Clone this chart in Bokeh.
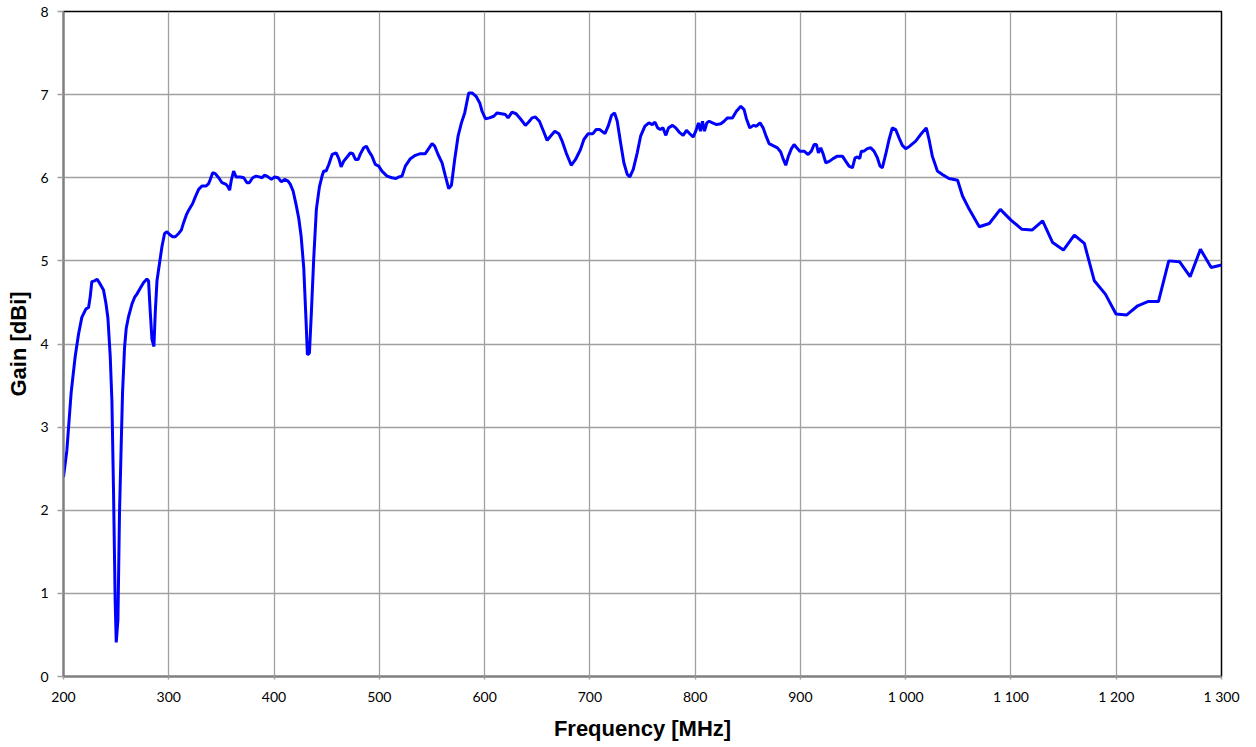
from bokeh.plotting import figure
from bokeh.models import FixedTicker, ColumnDataSource
from bokeh.embed import file_html
from bokeh.resources import INLINE

freq_mhz = [
    200.0, 203.2, 207.3, 211.1, 214.3, 217.4, 221.2, 223.8, 225.4, 226.9, 229.5, 232.0, 234.9,
    238.0, 240.3, 242.2, 244.4, 246.0, 247.5, 249.1, 250.1, 251.7, 253.2, 254.8, 256.1, 258.0,
    259.6, 261.8, 265.0, 267.5, 269.7, 272.9, 276.1, 279.2, 280.8, 282.4, 284.0, 285.9, 287.2,
    288.8, 291.3, 293.5, 296.0, 298.3, 300.5, 303.6, 306.2, 309.4, 311.9, 314.1, 316.6, 318.9,
    322.7, 325.2, 328.4, 331.5, 335.3, 337.9, 339.4, 341.7, 344.2, 347.4, 350.6, 354.4, 356.3,
    357.8, 359.4, 361.6, 363.9, 368.0, 371.2, 374.3, 376.5, 379.7, 382.9, 386.0, 388.6, 390.8,
    393.3, 397.5, 400.6, 403.8, 407.0, 410.1, 413.3, 415.5, 418.1, 420.9, 423.5, 425.7, 428.2,
    430.4, 431.7, 433.6, 435.5, 437.7, 440.2, 443.1, 445.6, 447.2, 449.4, 452.0, 455.2, 459.0,
    461.5, 463.7, 466.2, 469.4, 472.6, 474.8, 477.3, 479.9, 482.1, 485.2, 487.8, 490.0, 493.0,
    496.2, 499.4, 502.5, 507.3, 512.0, 515.8, 518.4, 521.6, 524.7, 529.5, 534.2, 539.0, 543.7,
    546.9, 550.1, 552.6, 555.8, 559.6, 562.8, 565.9, 568.5, 571.6, 574.8, 578.0, 581.1, 584.9,
    588.1, 591.9, 595.4, 597.6, 600.8, 604.6, 608.7, 611.9, 616.0, 619.8, 622.3, 626.1, 629.9,
    634.0, 638.8, 641.9, 645.1, 648.3, 652.1, 655.3, 659.4, 662.6, 666.7, 670.5, 673.7, 677.5,
    682.3, 686.4, 691.1, 694.3, 698.4, 702.9, 706.0, 709.5, 714.3, 717.4, 720.6, 723.5, 726.0,
    729.2, 732.3, 735.5, 738.0, 741.2, 745.0, 748.2, 752.3, 756.1, 759.3, 761.8, 764.4, 766.9,
    769.4, 772.2, 774.7, 778.5, 781.6, 784.8, 788.6, 791.8, 794.9, 798.1, 800.6, 803.2, 805.1,
    807.0, 808.9, 811.1, 813.3, 816.5, 820.3, 824.4, 827.5, 830.7, 835.4, 839.2, 843.4, 846.5,
    848.7, 851.9, 855.4, 858.2, 861.7, 864.6, 867.1, 870.3, 875.0, 878.2, 881.3, 883.5, 886.1,
    888.6, 891.5, 894.0, 896.5, 899.4, 903.5, 907.3, 910.4, 913.0, 915.2, 917.1, 919.3, 921.5,
    924.1, 927.8, 931.0, 935.1, 939.9, 943.0, 946.2, 949.4, 951.9, 954.1, 956.3, 957.9, 960.4,
    963.6, 966.8, 969.9, 973.1, 975.6, 977.8, 981.0, 984.2, 987.3, 990.5, 993.7, 996.8, 1000.0,
    1003.8, 1009.5, 1014.2, 1019.6, 1022.2, 1025.3, 1030.1, 1034.8, 1041.1, 1049.3, 1054.0,
    1060.4, 1069.9, 1079.4, 1089.9, 1100.0, 1110.5, 1120.0, 1130.1, 1139.6, 1149.8, 1160.2,
    1169.7, 1179.2, 1189.7, 1199.8, 1210.0, 1220.4, 1230.0, 1240.1, 1249.9, 1260.1, 1270.2,
    1280.0, 1290.2, 1300.0,
]

gain_dbi = [
    2.40, 2.72, 3.42, 3.85, 4.12, 4.32, 4.42, 4.44, 4.57, 4.75, 4.76, 4.78, 4.72,
    4.65, 4.49, 4.31, 3.85, 3.31, 2.24, 0.90, 0.41, 0.68, 1.97, 2.78, 3.42, 3.96,
    4.19, 4.33, 4.48, 4.56, 4.60, 4.67, 4.74, 4.78, 4.76, 4.39, 4.06, 3.97, 4.39,
    4.76, 4.98, 5.17, 5.33, 5.35, 5.32, 5.29, 5.29, 5.33, 5.37, 5.46, 5.55, 5.61,
    5.69, 5.77, 5.86, 5.90, 5.90, 5.93, 5.98, 6.06, 6.05, 6.00, 5.94, 5.92, 5.89,
    5.85, 5.97, 6.08, 6.01, 6.01, 6.00, 5.94, 5.94, 6.00, 6.02, 6.01, 6.00, 6.03,
    6.02, 5.98, 6.01, 6.00, 5.95, 5.98, 5.96, 5.92, 5.84, 5.68, 5.51, 5.30, 4.92,
    4.28, 3.87, 3.89, 4.39, 5.03, 5.62, 5.89, 6.02, 6.08, 6.08, 6.16, 6.28, 6.30,
    6.23, 6.13, 6.20, 6.25, 6.30, 6.29, 6.22, 6.22, 6.29, 6.36, 6.38, 6.32, 6.26,
    6.16, 6.14, 6.08, 6.02, 6.00, 5.99, 6.01, 6.02, 6.14, 6.23, 6.27, 6.29, 6.29,
    6.35, 6.41, 6.38, 6.28, 6.18, 6.02, 5.87, 5.91, 6.22, 6.50, 6.66, 6.78, 7.02,
    7.02, 6.98, 6.90, 6.80, 6.71, 6.72, 6.74, 6.78, 6.77, 6.76, 6.72, 6.79, 6.77,
    6.71, 6.63, 6.67, 6.72, 6.73, 6.68, 6.58, 6.45, 6.50, 6.56, 6.53, 6.44, 6.30,
    6.15, 6.22, 6.34, 6.46, 6.53, 6.53, 6.58, 6.58, 6.53, 6.62, 6.75, 6.78, 6.68,
    6.42, 6.18, 6.04, 6.01, 6.10, 6.30, 6.50, 6.62, 6.66, 6.64, 6.67, 6.60, 6.58,
    6.60, 6.51, 6.60, 6.63, 6.60, 6.55, 6.51, 6.57, 6.53, 6.49, 6.56, 6.66, 6.56,
    6.68, 6.56, 6.66, 6.68, 6.66, 6.64, 6.65, 6.68, 6.72, 6.72, 6.80, 6.86, 6.82,
    6.71, 6.60, 6.63, 6.62, 6.66, 6.60, 6.51, 6.41, 6.38, 6.36, 6.31, 6.23, 6.15,
    6.26, 6.35, 6.40, 6.36, 6.32, 6.32, 6.28, 6.32, 6.40, 6.40, 6.30, 6.36, 6.29,
    6.18, 6.20, 6.23, 6.26, 6.26, 6.20, 6.14, 6.12, 6.24, 6.25, 6.23, 6.32, 6.32,
    6.35, 6.36, 6.32, 6.24, 6.14, 6.12, 6.28, 6.46, 6.60, 6.58, 6.48, 6.39, 6.35,
    6.38, 6.44, 6.52, 6.60, 6.46, 6.26, 6.08, 6.04, 5.99, 5.97, 5.78,
    5.62, 5.41, 5.45, 5.62, 5.49, 5.38, 5.37, 5.48, 5.22, 5.13, 5.31,
    5.21, 4.76, 4.60, 4.36, 4.35, 4.46, 4.51, 4.51, 5.00, 4.99, 4.81,
    5.14, 4.92, 4.95,
]

x_ticks = [200, 300, 400, 500, 600, 700, 800, 900, 1000, 1100, 1200, 1300]
x_tick_labels = ["200", "300", "400", "500", "600", "700", "800", "900",
                 "1 000", "1 100", "1 200", "1 300"]
y_ticks = [0, 1, 2, 3, 4, 5, 6, 7, 8]

src = ColumnDataSource(data=dict(f=freq_mhz, g=gain_dbi))

p = figure(width=1240, height=743, output_backend="svg", toolbar_location=None,
           x_range=(200, 1300), y_range=(0, 8),
           min_border_left=63, min_border_right=19, min_border_top=11, min_border_bottom=62)

p.line("f", "g", source=src, line_color="#0000ff", line_width=3)

p.background_fill_color = "white"
p.border_fill_color = "white"
p.outline_line_color = "black"
p.outline_line_width = 1.5

p.xaxis.ticker = FixedTicker(ticks=x_ticks)
p.xaxis.major_label_overrides = {t: l for t, l in zip(x_ticks, x_tick_labels)}
p.yaxis.ticker = FixedTicker(ticks=y_ticks)

for ax in (p.xaxis, p.yaxis):
    ax.axis_line_color = "#808080"
    ax.axis_line_width = 2
    ax.major_tick_line_color = "#a0a0a0"
    ax.major_tick_line_width = 1.5
    ax.major_tick_in = 0
    ax.minor_tick_line_color = None
    ax.major_label_text_font = "Lato"
    ax.major_label_text_font_size = "14px"
    ax.major_label_text_color = "black"
    ax.axis_label_text_font = "Liberation Sans"
    ax.axis_label_text_font_style = "bold"
    ax.axis_label_text_font_size = "22px"
    ax.axis_label_text_color = "black"

p.xaxis.major_tick_out = 3
p.yaxis.major_tick_out = 6
p.xaxis.major_label_standoff = 8
p.yaxis.major_label_standoff = 9
p.xaxis.axis_label = "Frequency [MHz]"
p.yaxis.axis_label = "Gain [dBi]"
p.xaxis.axis_label_standoff = 8
p.yaxis.axis_label_standoff = 6

p.xgrid.grid_line_color = "#a0a0a0"
p.ygrid.grid_line_color = "#a0a0a0"
p.xgrid.grid_line_width = 1.3
p.ygrid.grid_line_width = 1.3

open("out.html", "w").write(file_html(p, INLINE))
